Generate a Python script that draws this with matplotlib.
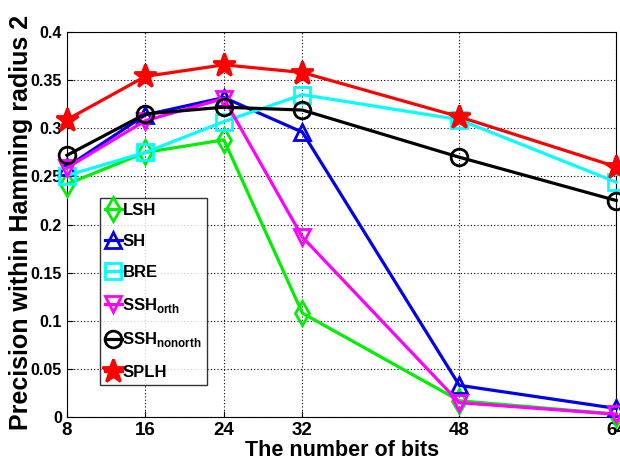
import matplotlib
matplotlib.use('Agg')
import matplotlib.pyplot as plt

plt.rcParams['font.family'] = ['Liberation Sans', 'DejaVu Sans']
plt.rcParams['mathtext.fontset'] = 'custom'
plt.rcParams['mathtext.rm'] = 'Liberation Sans:bold'
plt.rcParams['mathtext.bf'] = 'Liberation Sans:bold'

# inputs
bits = [8, 16, 24, 32, 48, 64]
lsh = [0.242, 0.275, 0.288, 0.108, 0.017, 0.003]
sh = [0.260, 0.314, 0.332, 0.296, 0.033, 0.009]
bre = [0.251, 0.275, 0.307, 0.335, 0.309, 0.244]
ssh_orth = [0.259, 0.308, 0.331, 0.187, 0.015, 0.003]
ssh_nonorth = [0.272, 0.315, 0.322, 0.319, 0.270, 0.225]
splh = [0.309, 0.354, 0.366, 0.358, 0.312, 0.260]

labels = ['LSH', 'SH', 'BRE', r'SSH$_{\mathbf{orth}}$', r'SSH$_{\mathbf{nonorth}}$', 'SPLH']
series = [lsh, sh, bre, ssh_orth, ssh_nonorth, splh]
colors = ['#00ee00', '#0000ee', '#00ffff', '#ff00ff', 'black', 'red']
markers = ['d', '^', 's', 'v', 'o', '*']

fig = plt.figure(figsize=(6.2, 4.65), dpi=100)
ax = fig.add_axes([0.108, 0.103, 0.886, 0.828])

for vals, lab, c, m in zip(series, labels, colors, markers):
    face = c if m == '*' else 'none'
    ms = 17 if m == '*' else 12
    ax.plot(bits, vals, color=c, lw=2.3, marker=m, ms=ms, mfc=face, mec=c,
            mew=2, label=lab, clip_on=False, zorder=3)

ax.set_xlim(8, 64)
ax.set_ylim(0, 0.4)
ax.set_xticks(bits)
ax.set_yticks([0, 0.05, 0.1, 0.15, 0.2, 0.25, 0.3, 0.35, 0.4])
ax.set_yticklabels(['0', '0.05', '0.1', '0.15', '0.2', '0.25', '0.3', '0.35', '0.4'])
ax.grid(True, color='black', ls=(0, (1, 2)), lw=0.8)
ax.tick_params(direction='in', length=4)
ax.tick_params(axis='x', labelsize=13.5)
ax.tick_params(axis='y', labelsize=11.5)
for t in ax.get_xticklabels() + ax.get_yticklabels():
    t.set_fontweight('bold')

ax.set_xlabel('The number of bits', fontsize=15.5, fontweight='bold', va='top')
ax.xaxis.set_label_coords(0.5, -0.060)
ax.set_ylabel('Precision within Hamming radius 2', fontsize=18, fontweight='bold',
              va='center')
ax.yaxis.set_label_coords(-0.084, 0.506)

leg = ax.legend(loc='upper left', bbox_to_anchor=(0.060, 0.569), fontsize=12,
                handlelength=1.0, handletextpad=0.05, borderpad=0.3,
                labelspacing=0.95, fancybox=False, edgecolor='black',
                borderaxespad=0)
leg.get_frame().set_linewidth(1.0)
for t in leg.get_texts():
    t.set_fontweight('bold')

plt.savefig('out.png', dpi=100)
